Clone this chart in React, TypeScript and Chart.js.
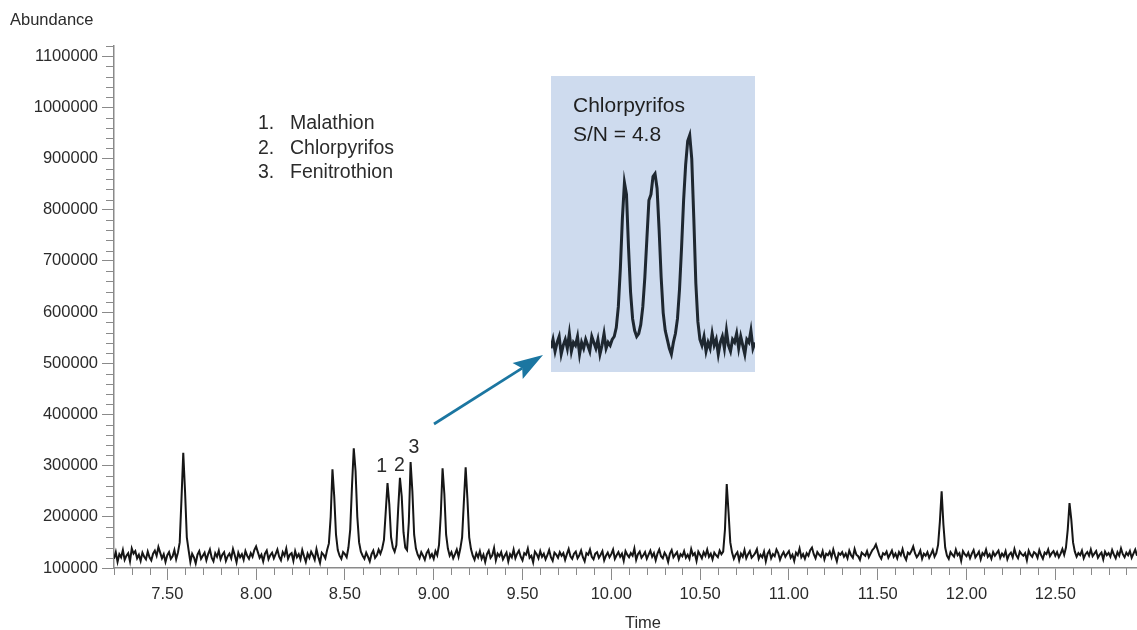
import React, { useEffect, useRef } from "react";
import { Chart, registerables } from "chart.js";

Chart.register(...registerables);

// ---------- data ----------
const startTime = 7.2; // min, first scan shown
const scanStep = 0.01; // min between scans
// abundance per scan, in thousands (7.20 ... 12.96 min)
const abundanceK = [
  118, 131, 112, 127, 121, 135, 116, 124, 129, 113,
  138, 128, 133, 119, 126, 114, 130, 122, 117, 132,
  121, 115, 128, 134, 124, 141, 130, 119, 127, 112,
  125, 131, 118, 123, 135, 117, 130, 150, 235, 325,
  250, 160, 135, 112, 128, 121, 109, 126, 133, 118,
  124, 130, 115, 127, 136, 120, 113, 129, 122, 134,
  117, 126, 131, 114, 123, 128, 119, 137, 125, 111,
  130, 121, 127, 116, 133, 124, 118, 129, 122, 135,
  142, 131, 120, 126, 113, 128, 134, 117, 125, 130,
  119, 127, 136, 122, 115, 131, 124, 138, 118, 126,
  129, 114, 133, 121, 127, 117, 135, 123, 112, 128,
  120, 132, 125, 116, 137, 122, 110, 130, 126, 119,
  135, 148, 200, 293, 240, 165, 135, 124, 118, 131,
  127, 121, 140, 175, 260, 334, 290, 200, 150, 132,
  124, 118, 130, 122, 113, 127, 134, 120, 125, 136,
  128, 138, 155, 210, 266, 225, 160, 140, 132, 145,
  215, 276, 240, 170, 140, 135, 190, 307, 250, 165,
  138, 126, 119, 131, 124, 116, 129, 135, 121, 127,
  118, 133, 125, 145, 205, 295, 245, 165, 138, 124,
  131, 119, 127, 136, 122, 138, 160, 230, 297, 235,
  160, 137, 124, 116, 129, 121, 133, 118, 126, 112,
  127, 134, 120, 125, 139, 115, 128, 123, 131, 117,
  124, 130, 113, 127, 121, 136, 119, 128, 134, 122,
  115, 129, 126, 138, 120, 124, 111, 132, 127, 119,
  133, 122, 128, 117, 125, 135, 121, 114, 130, 126,
  120, 131, 124, 129, 116, 127, 137, 123, 118, 128,
  132, 119, 125, 134, 121, 113, 129, 126, 136, 122,
  117, 128, 131, 120, 126, 133, 115, 124, 130, 121,
  127, 136, 118, 125, 131, 122, 128, 114, 133, 126,
  121, 129, 124, 138, 116, 127, 132, 120, 125, 131,
  118, 126, 134, 122, 129, 115, 128, 136, 123, 119,
  130, 124, 112, 128, 135, 121, 126, 131, 117, 127,
  123, 133, 120, 126, 118, 137, 125, 129, 114, 132,
  126, 119, 131, 124, 136, 122, 128, 117, 130, 125,
  121, 134, 127, 132, 175, 264, 210, 150, 130, 118,
  126, 131, 115, 128, 122, 135, 119, 127, 133, 120,
  124, 129, 137, 118, 126, 121, 132, 113, 128, 134,
  119, 127, 123, 136, 129, 116, 125, 131, 122, 128,
  133, 120, 126, 114, 130, 125, 138, 121, 127, 118,
  129, 124, 135, 140, 127, 119, 131, 126, 122, 133,
  117, 128, 125, 132, 121, 136, 124, 113, 129, 126,
  131, 122, 128, 119, 134, 125, 120, 137, 126, 123,
  116, 130, 127, 124, 133, 121, 128, 135, 139, 146,
  135, 124, 118, 129, 126, 132, 120, 127, 134, 122,
  128, 119, 131, 125, 137, 123, 116, 130, 127, 133,
  142, 129, 121, 126, 134, 118, 128, 124, 131, 120,
  127, 135, 122, 129, 145, 190, 250, 185, 140, 124,
  118, 131, 126, 122, 136, 125, 129, 114, 133, 127,
  123, 130, 119, 128, 135, 121, 126, 132, 117, 129,
  125, 136, 122, 127, 118, 131, 124, 129, 134, 120,
  128, 123, 133, 117, 126, 130, 121, 137, 125, 119,
  132, 127, 124, 129, 115, 134, 126, 122, 131, 128,
  120, 135, 125, 118, 130, 127, 136, 123, 129, 133,
  124, 131, 121, 128, 137, 126, 140, 175, 227, 195,
  150, 132, 122, 129, 125, 134, 119, 127, 131, 124,
  136, 123, 128, 133, 120, 126, 130, 117, 132, 125,
  129, 122, 135, 126, 119, 131, 124, 138, 127, 121,
  130, 125, 133, 120, 128, 136, 124,
];

const xTickValues = [7.5, 8.0, 8.5, 9.0, 9.5, 10.0, 10.5, 11.0, 11.5, 12.0, 12.5];
const yTickValues = [
  100000, 200000, 300000, 400000, 500000, 600000,
  700000, 800000, 900000, 1000000, 1100000,
];
const xMin = 7.2;
const xMax = 12.96;
const yMin = 100000;
const yMax = 1120000;

const yAxisTitle = "Abundance";
const xAxisTitle = "Time";
const compoundNumbers = ["1.", "2.", "3."];
const compoundNames = ["Malathion", "Chlorpyrifos", "Fenitrothion"];
const peakLabels = ["1", "2", "3"];

// inset: zoomed Chlorpyrifos trace (relative response)
const insetValues = [
  8, 11, 7, 10, 12, 6, 9, 11, 8, 13, 7, 10, 9, 12, 6, 10, 8, 11, 9, 7, 12, 10, 8, 11, 6, 9, 13, 8, 10, 9, 11,
  12, 15, 22, 35, 52, 64, 60, 42, 27, 18, 14, 12, 13, 16, 22, 32, 45, 58, 60, 66,
  67, 62, 48, 32, 20, 14, 11, 8, 6, 10, 13, 18, 28, 42, 58, 70, 78, 80, 72, 52, 30, 17, 11, 9,
  12, 7, 10, 8, 13, 9, 11, 6, 10, 12, 8, 14, 9, 7, 11, 10, 13, 8, 12, 9, 6, 11, 10, 14, 8, 10,
];
const insetTitle = "Chlorpyrifos";
const insetSN = "S/N = 4.8";

// ---------- styles ----------
const SANS = '"Liberation Sans", Arial, sans-serif';
const AXIS_COLOR = "#8a8a8a";
const TEXT_COLOR = "#2b2b2b";
const ARROW_COLOR = "#1b76a1";

const W = 1137;
const H = 630;

export default function App() {
  const mainRef = useRef<HTMLCanvasElement | null>(null);
  const insetRef = useRef<HTMLCanvasElement | null>(null);

  useEffect(() => {
    if (!mainRef.current || !insetRef.current) return;

    const points = abundanceK.map((v, i) => ({
      x: startTime + i * scanStep,
      y: v * 1000,
    }));

    const decorations = {
      id: "decorations",
      afterDraw(chart: any) {
        const ctx = chart.ctx as CanvasRenderingContext2D;
        const xs = chart.scales.x;
        const ys = chart.scales.y;
        const area = chart.chartArea;
        ctx.save();
        // minor ticks
        ctx.strokeStyle = AXIS_COLOR;
        ctx.lineWidth = 1;
        for (let k = Math.round(xMin * 10); k <= Math.floor(xMax * 10); k++) {
          if (k % 5 === 0) continue;
          const px = Math.round(xs.getPixelForValue(k / 10)) + 0.5;
          ctx.beginPath();
          ctx.moveTo(px, area.bottom);
          ctx.lineTo(px, area.bottom + 7);
          ctx.stroke();
        }
        for (let v = yMin; v <= yMax; v += 20000) {
          if (v % 100000 === 0) continue;
          const py = Math.round(ys.getPixelForValue(v)) + 0.5;
          ctx.beginPath();
          ctx.moveTo(area.left - 8, py);
          ctx.lineTo(area.left, py);
          ctx.stroke();
        }

        ctx.fillStyle = TEXT_COLOR;
        ctx.textBaseline = "alphabetic";
        // axis titles
        ctx.font = `16.5px ${SANS}`;
        ctx.textAlign = "left";
        ctx.fillText(yAxisTitle, 10, 25);
        ctx.textAlign = "center";
        ctx.fillText(xAxisTitle, 643, 627.5);

        // compound list
        ctx.font = `19.5px ${SANS}`;
        ctx.textAlign = "left";
        const baselines = [129, 153.5, 178];
        compoundNumbers.forEach((n, i) => {
          ctx.fillText(n, 258, baselines[i]);
          ctx.fillText(compoundNames[i], 290, baselines[i]);
        });

        // peak labels
        ctx.textAlign = "center";
        const lx = [381.7, 399.3, 414];
        const ly = [471.7, 470.7, 453.3];
        peakLabels.forEach((t, i) => ctx.fillText(t, lx[i], ly[i]));

        // arrow
        const x0 = 434, y0 = 424, x1 = 543, y1 = 355;
        const ang = Math.atan2(y1 - y0, x1 - x0);
        const hl = 30, hw = 9.5;
        const cos = Math.cos(ang), sin = Math.sin(ang);
        const bx = x1 - hl * cos, by = y1 - hl * sin;
        const nx = x1 - hl * 0.82 * cos, ny = y1 - hl * 0.82 * sin;
        ctx.strokeStyle = ARROW_COLOR;
        ctx.fillStyle = ARROW_COLOR;
        ctx.lineWidth = 2.7;
        ctx.lineCap = "butt";
        ctx.beginPath();
        ctx.moveTo(x0, y0);
        ctx.lineTo(nx, ny);
        ctx.stroke();
        ctx.beginPath();
        ctx.moveTo(x1, y1);
        ctx.lineTo(bx - hw * sin, by + hw * cos);
        ctx.lineTo(nx, ny);
        ctx.lineTo(bx + hw * sin, by - hw * cos);
        ctx.closePath();
        ctx.fill();
        ctx.restore();
      },
    };

    const main = new Chart(mainRef.current, {
      type: "line",
      data: {
        datasets: [
          {
            data: points,
            borderColor: "#161616",
            borderWidth: 2,
            pointRadius: 0,
            tension: 0,
            fill: false,
          },
        ],
      },
      options: {
        animation: false,
        responsive: false,
        events: [],
        layout: { padding: { top: 46, left: 0, right: 0, bottom: 0 } },
        plugins: {
          legend: { display: false },
          tooltip: { enabled: false },
          title: { display: false },
        },
        scales: {
          x: {
            type: "linear",
            min: xMin,
            max: xMax,
            afterBuildTicks: (s: any) => {
              s.ticks = xTickValues.map((v) => ({ value: v }));
            },
            afterFit: (s: any) => {
              s.height = 62;
            },
            ticks: {
              autoSkip: false,
              maxRotation: 0,
              padding: 5,
              color: TEXT_COLOR,
              font: { family: SANS, size: 16.5 },
              callback: (v: any) => Number(v).toFixed(2),
            },
            grid: {
              drawOnChartArea: false,
              drawTicks: true,
              tickLength: 12,
              color: AXIS_COLOR,
              lineWidth: 1,
            },
            border: { display: true, color: AXIS_COLOR, width: 1.5 },
          },
          y: {
            type: "linear",
            min: yMin,
            max: yMax,
            afterBuildTicks: (s: any) => {
              s.ticks = yTickValues.map((v) => ({ value: v }));
            },
            afterFit: (s: any) => {
              s.width = 114;
            },
            ticks: {
              autoSkip: false,
              padding: 4,
              color: TEXT_COLOR,
              font: { family: SANS, size: 16.5 },
              callback: (v: any) => String(v),
            },
            grid: {
              drawOnChartArea: false,
              drawTicks: true,
              tickLength: 12,
              color: AXIS_COLOR,
              lineWidth: 1,
            },
            border: { display: true, color: AXIS_COLOR, width: 1.5 },
          },
        },
      },
      plugins: [decorations],
    } as any);

    const insetDecor = {
      id: "insetDecor",
      beforeDraw(chart: any) {
        const ctx = chart.ctx as CanvasRenderingContext2D;
        ctx.save();
        ctx.fillStyle = "#cedbee";
        ctx.fillRect(0, 0, chart.width, chart.height);
        ctx.restore();
      },
      afterDraw(chart: any) {
        const ctx = chart.ctx as CanvasRenderingContext2D;
        ctx.save();
        ctx.fillStyle = "#1f1f1f";
        ctx.font = `21px ${SANS}`;
        ctx.textAlign = "left";
        ctx.textBaseline = "alphabetic";
        ctx.fillText(insetTitle, 22, 35.5);
        ctx.fillText(insetSN, 22, 65);
        ctx.restore();
      },
    };

    const inset = new Chart(insetRef.current, {
      type: "line",
      data: {
        labels: insetValues.map((_, i) => i),
        datasets: [
          {
            data: insetValues,
            borderColor: "#1e2730",
            borderWidth: 3,
            pointRadius: 0,
            tension: 0,
            fill: false,
          },
        ],
      },
      options: {
        animation: false,
        responsive: false,
        events: [],
        layout: { padding: 0 },
        plugins: {
          legend: { display: false },
          tooltip: { enabled: false },
        },
        scales: {
          x: { display: false },
          y: { display: false, min: 0, max: 100 },
        },
      },
      plugins: [insetDecor],
    } as any);

    return () => {
      main.destroy();
      inset.destroy();
    };
  }, []);

  return (
    <div
      style={{
        position: "fixed",
        left: 0,
        top: 0,
        width: W,
        height: H,
        background: "#ffffff",
        overflow: "hidden",
      }}
    >
      <canvas
        ref={mainRef}
        width={W}
        height={H}
        style={{ position: "absolute", left: 0, top: 0, width: W, height: H }}
      />
      <canvas
        ref={insetRef}
        width={204}
        height={296}
        style={{ position: "absolute", left: 551, top: 76, width: 204, height: 296 }}
      />
    </div>
  );
}
